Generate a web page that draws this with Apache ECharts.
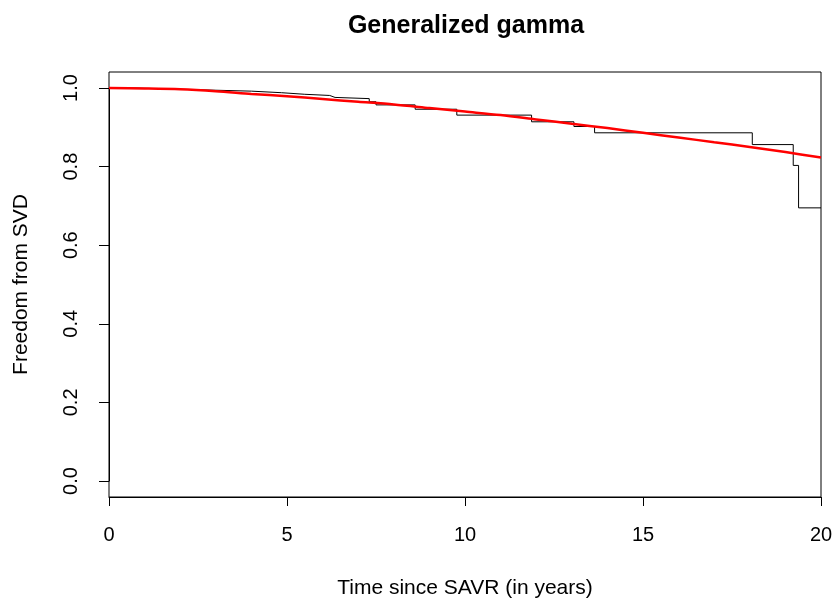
<!DOCTYPE html>
<html>
<head>
<meta charset="utf-8">
<script src="https://cdn.jsdelivr.net/npm/echarts@6/dist/echarts.min.js"></script>
<style>html,body{margin:0;padding:0;background:#fff;}#c{width:837px;height:607px;}</style>
</head>
<body>
<div id="c"></div>
<script>
// Kaplan-Meier step estimate (time in years, survival)
var kmTimes = [0, 0.73, 1.85, 4.0, 4.85, 5.5, 6.2, 6.35, 7.31, 7.5, 8.6, 9.77, 11.87, 13.06, 13.64, 18.07, 19.22, 19.37, 20];
var kmSurv  = [1.0, 0.997, 0.992, 0.988, 0.984, 0.981, 0.976, 0.973, 0.965, 0.957, 0.946, 0.931, 0.914, 0.902, 0.886, 0.856, 0.803, 0.695, 0.695];
// Generalized gamma fitted curve
var fitTimes = [0, 1, 2, 3, 4, 5, 6, 7, 8, 9, 10, 11, 12, 13, 14, 15, 16, 17, 18, 19, 20];
var fitSurv  = [1.000, 0.999, 0.997, 0.992, 0.985, 0.979, 0.972, 0.965, 0.958, 0.949, 0.940, 0.931, 0.920, 0.909, 0.898, 0.886, 0.874, 0.862, 0.850, 0.837, 0.823];
var xTicks = [0, 5, 10, 15, 20];
var yTicks = [0, 0.2, 0.4, 0.6, 0.8, 1.0];

var kmPath = [];
for (var i = 0; i < kmTimes.length; i++) {
  if (i > 0) kmPath.push([kmTimes[i], kmSurv[i - 1]]);
  kmPath.push([kmTimes[i], kmSurv[i]]);
}
var fitData = fitTimes.map(function (t, i) { return [t, fitSurv[i]]; });

var FONT = 'Liberation Sans, Arial, sans-serif';
var chart = echarts.init(document.getElementById('c'), null, {renderer: 'canvas'});
chart.setOption({
  animation: false,
  backgroundColor: '#fff',
  title: {
    text: 'Generalized gamma',
    left: 461, top: 9, textAlign: 'center',
    textStyle: {fontFamily: FONT, fontSize: 25, fontWeight: 'bold', color: '#000'}
  },
  grid: [
    {left: 109, right: 16, top: 88, bottom: 126, show: false},
    {left: 109, right: 16, top: 72, bottom: 110, show: true, borderColor: '#000', borderWidth: 1, backgroundColor: 'transparent'}
  ],
  xAxis: [
    {
      gridIndex: 0, type: 'value', min: xTicks[0], max: xTicks[xTicks.length - 1], interval: 5,
      offset: 16,
      name: 'Time since SAVR (in years)', nameLocation: 'middle', nameGap: 81,
      nameTextStyle: {fontFamily: FONT, fontSize: 21, color: '#000'},
      axisLine: {show: true, onZero: false, lineStyle: {color: '#000', width: 1}},
      axisTick: {show: true, inside: false, length: 9, lineStyle: {color: '#000'}},
      axisLabel: {show: true, margin: 28, fontFamily: FONT, fontSize: 20, color: '#000'},
      splitLine: {show: false}
    },
    {gridIndex: 1, type: 'value', min: 0, max: 1, show: false}
  ],
  yAxis: [
    {
      gridIndex: 0, type: 'value', min: yTicks[0], max: yTicks[yTicks.length - 1], interval: 0.2,
      name: 'Freedom from SVD', nameLocation: 'middle', nameGap: 77,
      nameTextStyle: {fontFamily: FONT, fontSize: 21, color: '#000'},
      axisLine: {show: true, onZero: false, lineStyle: {color: '#000', width: 1}},
      axisTick: {show: true, inside: false, length: 10, lineStyle: {color: '#000'}},
      axisLabel: {show: true, rotate: 90, margin: 28, fontFamily: FONT, fontSize: 20, color: '#000',
        formatter: function (v) { return v.toFixed(1); }},
      splitLine: {show: false}
    },
    {gridIndex: 1, type: 'value', min: 0, max: 1, show: false}
  ],
  series: [
    {
      type: 'line', xAxisIndex: 0, yAxisIndex: 0, data: kmPath,
      showSymbol: false, symbol: 'none', clip: false,
      lineStyle: {color: '#000', width: 1}
    },
    {
      type: 'line', xAxisIndex: 0, yAxisIndex: 0, data: fitData,
      showSymbol: false, symbol: 'none', smooth: 0.3, clip: false,
      lineStyle: {color: '#ff0000', width: 2.5}
    }
  ]
});
</script>
</body>
</html>
